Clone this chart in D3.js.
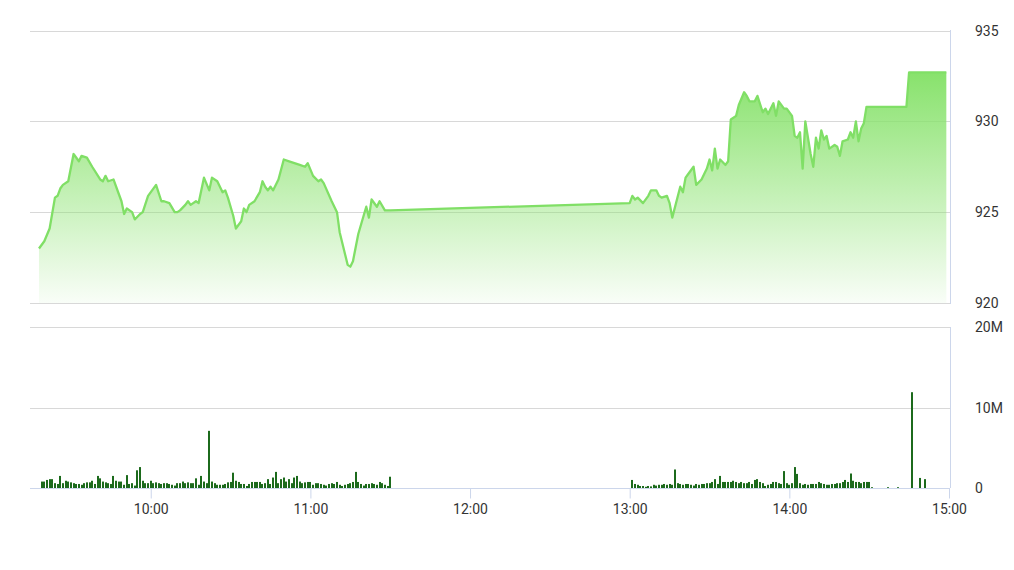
<!DOCTYPE html>
<html><head><meta charset="utf-8">
<script src="https://cdn.jsdelivr.net/npm/d3@7"></script>
<style>
html,body{margin:0;padding:0;background:#fff;}
svg{display:block;font-family:Roboto, "Liberation Sans", Arial, sans-serif;}
</style></head>
<body><svg id="c" width="1014" height="570"></svg>
<script>
// ---- data ----
const priceTimes = ["09:18","09:20","09:22","09:24","09:25","09:26","09:27","09:29","09:31","09:33","09:34","09:36","09:38","09:41","09:42","09:43","09:44","09:46","09:48","09:49","09:50","09:51","09:53","09:54","09:56","09:57","09:59","10:02","10:04","10:05","10:07","10:09","10:10","10:11","10:13","10:14","10:15","10:17","10:18","10:20","10:22","10:23","10:25","10:27","10:28","10:29","10:31","10:32","10:34","10:35","10:36","10:37","10:39","10:41","10:42","10:43","10:44","10:45","10:46","10:48","10:50","10:52","10:54","10:56","10:58","10:59","11:01","11:03","11:04","11:05","11:08","11:10","11:11","11:14","11:15","11:16","11:18","11:20","11:21","11:22","11:23","11:25","11:26","11:28","11:30",
"13:00","13:01","13:02","13:03","13:05","13:07","13:08","13:10","13:11","13:12","13:14","13:15","13:16","13:19","13:20","13:21","13:22","13:24","13:25","13:27","13:28","13:29","13:30","13:31","13:32","13:33","13:34","13:36","13:37","13:38","13:40","13:41","13:43","13:44","13:45","13:47","13:48","13:50","13:51","13:52","13:54","13:55","13:56","13:58","13:59","14:01","14:02","14:03","14:04","14:05","14:06","14:08","14:09","14:10","14:11","14:12","14:13","14:14","14:15","14:17","14:18","14:19","14:20","14:22","14:23","14:24","14:25","14:26","14:27","14:28","14:29","14:44","14:45","14:59"];
const priceValues = [923.0,923.4,924.1,925.8,925.9,926.3,926.5,926.7,928.2,927.8,928.1,928.0,927.5,926.8,926.7,927.0,926.7,926.8,926.0,925.6,924.9,925.2,925.0,924.6,924.9,925.0,925.9,926.5,925.6,925.6,925.5,925.0,925.0,925.1,925.4,925.6,925.4,925.6,925.5,926.9,926.2,926.9,926.7,926.1,926.2,925.8,924.8,924.1,924.5,925.2,925.0,925.4,925.6,926.1,926.7,926.4,926.2,926.4,926.2,926.8,927.9,927.8,927.7,927.6,927.5,927.7,927.0,926.7,926.8,926.6,925.6,925.0,923.9,922.1,922.0,922.3,923.8,924.8,925.3,924.7,925.7,925.3,925.6,925.1,925.1,
925.5,925.9,925.7,925.8,925.5,925.9,926.2,926.2,925.9,925.8,925.9,925.5,924.7,926.4,926.1,926.9,927.1,927.5,926.5,926.8,927.1,927.4,927.9,927.3,928.5,927.4,927.9,927.6,927.8,930.1,930.3,930.9,931.6,931.4,931.1,931.1,931.4,930.5,930.7,930.4,931.0,930.3,931.1,930.7,930.7,930.3,929.2,929.1,929.4,927.4,930.0,928.2,927.5,929.1,928.5,929.5,929.0,929.2,928.5,928.7,928.6,928.1,928.9,929.0,929.4,929.1,930.0,928.9,929.6,929.9,930.8,930.8,932.7,932.7];

// volume in millions, one bar per minute
const volMorningStart = "09:19";
const volMorning = [0.8,0.8,1.0,1.1,1.1,0.6,0.5,1.5,0.6,0.9,
0.8,0.7,0.6,0.5,0.5,0.4,0.6,0.7,0.7,0.9,
0.5,1.5,1.2,0.8,0.7,0.6,0.5,1.5,0.9,0.8,
0.8,0.4,1.6,0.5,0.6,0.3,2.2,2.6,0.9,0.6,
0.6,0.9,0.6,0.7,0.6,0.5,0.6,0.6,0.5,0.4,
0.3,0.6,0.6,0.8,0.6,0.7,0.6,0.6,1.2,0.4,
1.5,0.8,0.6,7.1,0.8,0.6,0.4,0.4,0.4,0.5,
0.7,0.75,1.9,0.9,0.75,0.5,0.5,0.25,0.5,0.75,
0.75,0.75,0.75,0.5,0.6,1.1,0.5,1.3,2.0,0.6,
1.1,1.3,0.8,1.1,0.6,1.3,1.5,0.8,0.6,0.7,
0.75,0.75,0.4,0.6,0.6,0.5,0.4,0.3,0.5,0.6,
0.5,0.75,0.4,0.25,0.4,0.5,0.6,0.75,2.0,0.75,
0.5,0.3,0.5,0.5,0.6,0.5,0.4,0.75,0.6,0.4,
0.25,1.4];
const volAfternoonStart = "13:01";
const volAfternoon = [1.0,0.5,0.4,0.25,0.25,0.15,0.25,0.2,0.4,0.3,
0.4,0.4,0.5,0.4,0.5,0.4,2.3,0.6,0.5,0.4,
0.5,0.5,0.4,0.3,0.5,0.4,0.5,0.5,0.6,0.6,
0.75,1.1,0.5,1.5,0.75,0.75,0.75,0.75,0.9,0.75,
0.6,0.75,0.6,0.6,0.75,0.5,1.0,1.1,0.75,0.6,
0.25,0.4,0.5,0.75,0.75,0.6,0.5,2.1,0.6,0.4,
0.6,2.6,1.75,0.6,0.4,0.5,0.4,0.5,0.5,0.5,
0.75,0.6,0.5,0.4,0.4,0.5,0.5,0.6,0.6,0.75,
1.0,0.75,1.8,0.9,0.75,0.75,0.6,0.75,0.75,0.75,
0.1,0,0,0,0,0,0.1,0,0,0,
0.1,0,0,0,0,11.9,0,0,1.25,0,
1.1];

const priceTicks = [920, 925, 930, 935];
const priceTickLabels = ["920", "925", "930", "935"];
const volTicks = [0, 10, 20];
const volTickLabels = ["0", "10M", "20M"];
const timeTicks = ["10:00","11:00","12:00","13:00","14:00","15:00"];

// ---- helpers ----
const day = "2020-01-01T";
const parseT = s => new Date(day + s + ":00");
const addMin = (s, k) => new Date(parseT(s).getTime() + k * 60000);

const price = priceTimes.map((t, i) => ({ t: parseT(t), v: priceValues[i] }));
const vols = volMorning.map((v, i) => ({ t: addMin(volMorningStart, i), v }))
  .concat(volAfternoon.map((v, i) => ({ t: addMin(volAfternoonStart, i), v })));

const svg = d3.select("#c");
const X0 = 31, X1 = 949;
const x = d3.scaleTime().domain([parseT("09:15"), parseT("15:00")]).range([X0, X1]);
const yP = d3.scaleLinear().domain([920, 935]).range([303, 30.5]);
const yV = d3.scaleLinear().domain([0, 20]).range([488, 327]);

// gradient
const defs = svg.append("defs");
const g = defs.append("linearGradient").attr("id", "ag").attr("x1", 0).attr("y1", 0).attr("x2", 0).attr("y2", 1);
g.append("stop").attr("offset", "0%").attr("stop-color", "rgb(136,226,108)").attr("stop-opacity", 1);
g.append("stop").attr("offset", "100%").attr("stop-color", "rgb(136,226,108)").attr("stop-opacity", 0.05);

// price gridlines
svg.append("g").selectAll("line").data(priceTicks).join("line")
  .attr("x1", 30).attr("x2", 950)
  .attr("y1", d => Math.round(yP(d)) + 0.5).attr("y2", d => Math.round(yP(d)) + 0.5)
  .attr("stroke", "#d8d8d8").attr("stroke-width", 1);

// volume gridlines
svg.append("g").selectAll("line").data(volTicks.filter(d => d > 0)).join("line")
  .attr("x1", 30).attr("x2", 950)
  .attr("y1", d => Math.round(yV(d)) + 0.5).attr("y2", d => Math.round(yV(d)) + 0.5)
  .attr("stroke", "#d8d8d8").attr("stroke-width", 1);

// area + line
const area = d3.area().x(d => x(d.t)).y0(yP(920)).y1(d => yP(d.v));
const line = d3.line().x(d => x(d.t)).y(d => yP(d.v));
svg.append("path").datum(price).attr("d", area).attr("fill", "url(#ag)");
svg.append("path").datum(price).attr("d", line).attr("fill", "none")
  .attr("stroke", "#80df66").attr("stroke-width", 2.3).attr("stroke-linejoin", "round");

// volume bars
svg.append("g").selectAll("rect").data(vols.filter(d => d.v > 0)).join("rect")
  .attr("x", d => Math.round(x(d.t)) - 1)
  .attr("width", 2)
  .attr("y", d => yV(d.v))
  .attr("height", d => Math.max(0.6, yV(0) - yV(d.v)))
  .attr("fill", "#1c6a1c");

// right borders
svg.append("line").attr("x1", 950.5).attr("x2", 950.5).attr("y1", 30).attr("y2", 304).attr("stroke", "#ccd6eb");
svg.append("line").attr("x1", 950.5).attr("x2", 950.5).attr("y1", 327).attr("y2", 488).attr("stroke", "#ccd6eb");

// x axis
const xa = svg.append("g").attr("transform", "translate(0,488.5)")
  .call(d3.axisBottom(x).tickValues(timeTicks.map(parseT)).tickFormat(d3.timeFormat("%H:%M")).tickSize(10).tickSizeOuter(0).tickPadding(6));
xa.select(".domain").attr("stroke", "#ccd6eb").attr("d", `M30,0H950`);
xa.selectAll(".tick line").attr("stroke", "#ccd6eb");
xa.selectAll("text").attr("fill", "#333").style("font-size", "14px").style("font-family", "Roboto, 'Liberation Sans', Arial, sans-serif");

// y labels (right)
svg.append("g").selectAll("text").data(priceTicks).join("text")
  .attr("x", 975).attr("y", d => yP(d) + 5)
  .attr("fill", "#333").style("font-size", "14px")
  .text((d, i) => priceTickLabels[i]);
svg.append("g").selectAll("text").data(volTicks).join("text")
  .attr("x", 975).attr("y", d => yV(d) + 5)
  .attr("fill", "#333").style("font-size", "14px")
  .text((d, i) => volTickLabels[i]);
</script></body></html>
